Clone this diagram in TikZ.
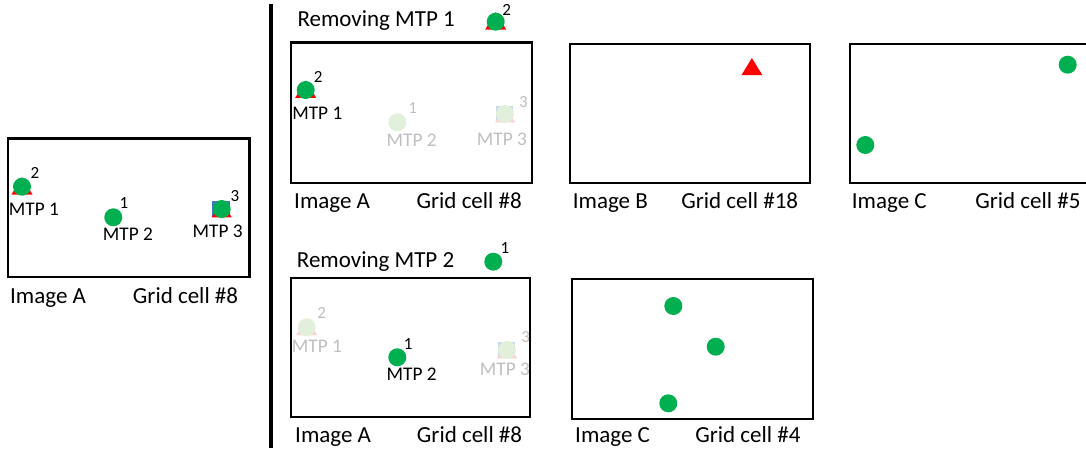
\documentclass[tikz,border=0pt]{standalone}
\usepackage{fontspec}
\setmainfont{Carlito}
\definecolor{mtpgreen}{HTML}{00B050}
\definecolor{mtpred}{HTML}{FF0000}
\definecolor{mtpblue}{HTML}{4472C4}
\definecolor{palegreen}{HTML}{E2EFDA}
\definecolor{palered}{HTML}{FAD2D2}
\definecolor{paleblue}{HTML}{C9D8F0}

\tikzset{
  frame/.style={draw=black, line width=2.4pt},
  caption/.style={anchor=base west, inner sep=0pt, font=\fontsize{23}{27}\selectfont},
  captionr/.style={caption, anchor=base east},
  mtplabel/.style={anchor=base, inner sep=0pt, text=black, font=\fontsize{19.3}{23}\selectfont},
  idx/.style={anchor=center, inner sep=0pt, text=black, font=\fontsize{17}{20}\selectfont},
  mtpdot/.style={fill=mtpgreen},
  mtptri/.style={fill=mtpred},
  mtpsq/.style={fill=mtpblue},
  dot/.style={circle, mtpdot, minimum size=18pt, inner sep=0pt},
  faded/.style={
    mtpdot/.style={fill=palegreen},
    mtptri/.style={fill=palered},
    mtpsq/.style={fill=paleblue},
    mtplabel/.append style={text=black!25},
    idx/.append style={text=black!25}},
  % green point sitting on a red triangle
  pics/dottri/.style={code={
    \fill[mtptri] (-10.5,7.8) -- (10.5,7.8) -- (0,-9.5) -- cycle;
    \node[dot] (-dot) at (0,0) {};}},
  % green point on a red triangle on a blue square
  pics/sqtridot/.style={code={
    \fill[mtpsq] (-9.4,-8) rectangle (8.4,8.3);
    \fill[mtptri] (-10,8.3) -- (10,8.3) -- (0,-8.7) -- cycle;
    \node[dot] (-dot) at (0,0) {};}},
}

\begin{document}
\begin{tikzpicture}[x=1pt, y=-1pt]
\useasboundingbox (0,0) rectangle (1086,448);

% ---------- original grid cell ----------
\draw[frame] (8,138.5) rectangle (249.5,277);
\pic (a1) at (22,186.7) {dottri};
\node[idx] (a1n) at (35,172.7) {2};
\node[mtplabel] (a1l) at (34,215) {MTP 1};
\node[dot] (a2) at (113.3,217.3) {};
\node[idx] (a2n) at (124,202.7) {1};
\node[mtplabel] (a2l) at (128,240.7) {MTP 2};
\pic (a3) at (221.7,209) {sqtridot};
\node[idx] (a3n) at (235,196) {3};
\node[mtplabel] (a3l) at (217.7,237.3) {MTP 3};
\node[caption] (acap) at (10,303.2) {Image A};
\node[captionr] (agrid) at (238.3,303.2) {Grid cell \#8};

% ---------- separator ----------
\coordinate (septop) at (270.5,4);
\coordinate (sepbot) at (270.5,448);
\draw[line width=4pt] (septop) -- (sepbot);

% ---------- removing MTP 1 ----------
\node[caption] (r1title) at (297.3,26.7) {Removing MTP 1};
\pic (r1icon) at (495.7,21.7) {dottri};
\node[idx] (r1iconn) at (506.7,10) {2};

\draw[frame] (291,42.5) rectangle (531.7,183);
\pic (b1) at (305.7,90) {dottri};
\node[idx] (b1n) at (318.3,77.3) {2};
\node[mtplabel] (b1l) at (317.3,119) {MTP 1};
\begin{scope}[faded]
  \node[dot] (b2) at (397.3,122.3) {};
  \node[idx] (b2n) at (412.7,108.3) {1};
  \node[mtplabel] (b2l) at (411.7,146) {MTP 2};
  \pic (b3) at (505,114) {sqtridot};
  \node[idx] (b3n) at (523.3,101.7) {3};
  \node[mtplabel] (b3l) at (502,145) {MTP 3};
\end{scope}
\node[caption] (bcap) at (294,208.3) {Image A};
\node[captionr] (bgrid) at (522,208.3) {Grid cell \#8};

% image B
\draw[frame] (570,44) rectangle (810,183);
\fill[mtpred] (741.5,75) -- (762.3,75) -- (751.9,58) -- cycle;
\node[caption] (ccap) at (572.7,208.3) {Image B};
\node[captionr] (cgrid) at (798.3,208.3) {Grid cell \#18};

% image C, cell 5
\draw[frame] (850,44) rectangle (1092,183);
\node[dot] (d1) at (1067.7,64.7) {};
\node[dot] (d2) at (865.3,145) {};
\node[caption] (dcap) at (851.7,208.3) {Image C};
\node[captionr] (dgrid) at (1080.7,208.3) {Grid cell \#5};

% ---------- removing MTP 2 ----------
\node[caption] (r2title) at (296.7,267.3) {Removing MTP 2};
\node[dot] (r2icon) at (493.3,261.7) {};
\node[idx] (r2iconn) at (505,248.3) {1};

\draw[frame] (291,277.7) rectangle (530,416.7);
\begin{scope}[faded]
  \pic (e1) at (306.7,327.3) {dottri};
  \node[idx] (e1n) at (321.7,312.7) {2};
  \node[mtplabel] (e1l) at (317,352.7) {MTP 1};
  \pic (e3) at (507,350) {sqtridot};
  \node[idx] (e3n) at (525.7,336.7) {3};
  \node[mtplabel] (e3l) at (505,375) {MTP 3};
\end{scope}
\node[dot] (e2) at (397.3,357.3) {};
\node[idx] (e2n) at (408.3,344) {1};
\node[mtplabel] (e2l) at (411.7,380) {MTP 2};
\node[caption] (ecap) at (295,442.7) {Image A};
\node[captionr] (egrid) at (522.3,442.7) {Grid cell \#8};

% image C, cell 4
\draw[frame] (572,279) rectangle (813,419);
\node[dot] (f1) at (673.3,306) {};
\node[dot] (f2) at (715.7,346.7) {};
\node[dot] (f3) at (668.3,403.3) {};
\node[caption] (fcap) at (575,442.7) {Image C};
\node[captionr] (fgrid) at (800.7,442.7) {Grid cell \#4};
\end{tikzpicture}
\end{document}
